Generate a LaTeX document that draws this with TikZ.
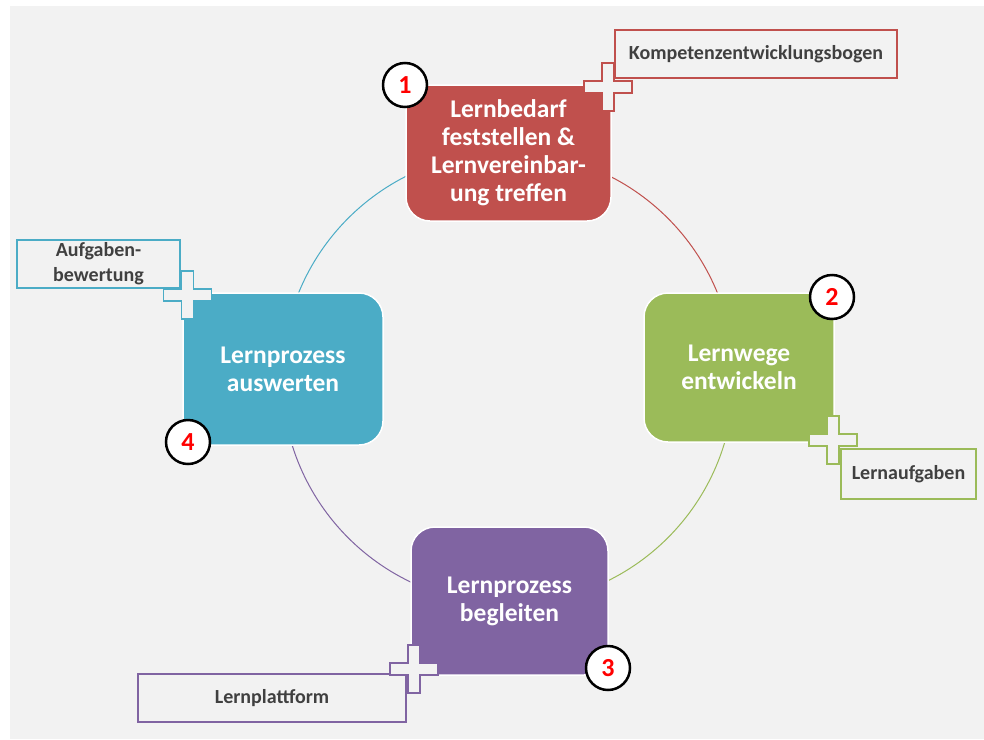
\documentclass[tikz,border=0pt]{standalone}
\usepackage{fontspec}
\setmainfont{Carlito}
\usepackage{xcolor}
\usetikzlibrary{positioning}
\definecolor{bgc}{HTML}{F2F2F2}
\definecolor{redc}{HTML}{C0504D}
\definecolor{greenc}{HTML}{9BBB59}
\definecolor{purplec}{HTML}{8064A2}
\definecolor{bluec}{HTML}{4BACC6}
\definecolor{tagtext}{HTML}{404040}

\begin{document}
\begin{tikzpicture}[
		x=1pt,y=-1pt,
		phase/.style={
			draw=white,
			line width=1.5pt,
			rounded corners=24pt,
			text=white,
			inner sep=0pt,
			align=center,
			font=\fontsize{25.5}{28}\selectfont\bfseries
		},
		tagbox/.style={
			draw=#1,
			line width=2pt,
			fill=bgc,
			text=tagtext,
			inner sep=0pt,
			align=center,
			font=\fontsize{20}{25}\selectfont\bfseries
		},
		stepnum/.style={
			circle,
			draw=black,
			line width=2.5pt,
			fill=white,
			minimum size=44pt,
			inner sep=0pt,
			text=red,
			font=\fontsize{26}{26}\selectfont\bfseries
		},
		plusmark/.style={
			draw=#1,
			line width=1.8pt,
			fill=bgc
		}
		]
		
		\useasboundingbox (0,0) rectangle (984,739);
		\fill[white] (0,0) rectangle (984,739);
		\fill[bgc] (10,6) rectangle (984,739);
		
		% cycle
		\coordinate (ctr) at (508,378);
		\foreach \col/\a in {redc/270,greenc/0,purplec/90,bluec/180}
		\draw[line width=1pt,draw=\col] (ctr) ++(\a:226) arc[start angle=\a,delta angle=90,radius=226];
		
		% phases
		\node[phase,fill=redc,minimum width=205pt,minimum height=136pt] (bedarf) at (508.5,153) {Lernbedarf\\feststellen \&\\Lernvereinbar-\\ung treffen};
		\node[phase,fill=greenc,minimum width=190pt,minimum height=149pt] (wege) at (739,367.5) {Lernwege\\entwickeln};
		\node[phase,fill=purplec,minimum width=197pt,minimum height=148pt] (begleiten) at (509.5,601) {Lernprozess\\begleiten};
		\node[phase,fill=bluec,minimum width=200pt,minimum height=152pt] (auswerten) at (283,369) {Lernprozess\\auswerten};
		
		% tools
		\node[tagbox=redc,minimum width=282pt,minimum height=48pt] (bogen) at (756,54) {Kompetenzentwicklungsbogen};
		\node[tagbox=greenc,minimum width=135pt,minimum height=50pt] (aufgaben) at (908.5,474) {Lernaufgaben};
		\node[tagbox=purplec,minimum width=268pt,minimum height=48pt] (plattform) at (272,698) {Lernplattform};
		\node[tagbox=bluec,minimum width=163pt,minimum height=48pt] (bewertung) at (98.5,264) {Aufgaben-\\bewertung};
		
		\foreach \pc/\px/\py in {redc/608/87,greenc/833/440,purplec/414/669,bluec/187.5/295}
		\draw[plusmark=\pc] (\px,\py) +(-6,-24) -- +(6,-24) -- +(6,-6) -- +(24,-6) -- +(24,6) -- +(6,6)
		-- +(6,24) -- +(-6,24) -- +(-6,6) -- +(-24,6) -- +(-24,-6) -- +(-6,-6) -- cycle;
		
		% numbers
		\node[stepnum] (n1) at (405,85) {1};
		\node[stepnum] (n2) at (832,297) {2};
		\node[stepnum] (n3) at (608,668) {3};
		\node[stepnum] (n4) at (188,442) {4};
		
	\end{tikzpicture}
\end{document}
